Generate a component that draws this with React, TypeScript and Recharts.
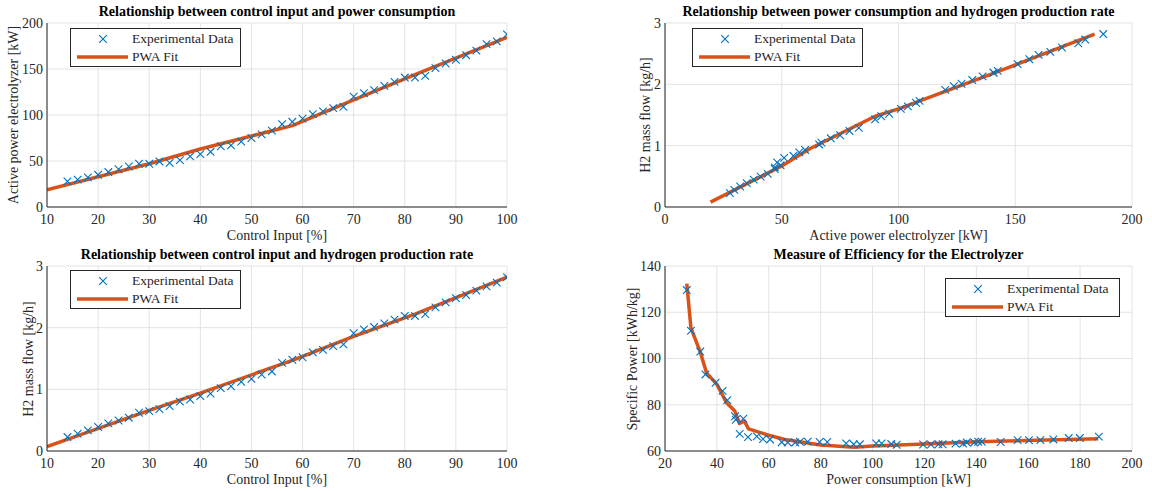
import React from "react";
import { CartesianGrid, ComposedChart, Line, Scatter, XAxis, YAxis } from "recharts";

const BLUE = "#0072BD";
const ORANGE = "#D95319";
const INK = "#262626";
const FONT = "'Liberation Serif', 'Times New Roman', serif";

// measured points: control input [%], power [kW], H2 flow [kg/h]
const controlInput = [
  14, 16, 18, 20, 22, 24, 26, 28, 30, 32, 34, 36, 38, 40, 42, 44, 46, 48, 50, 52, 54, 56,
  58, 60, 62, 64, 66, 68, 70, 72, 74, 76, 78, 80, 82, 84, 86, 88, 90, 92, 94, 96, 98, 100,
];
const powerKw = [
  27.8, 29.7, 32.2, 35, 38, 41, 44, 47, 47, 49.5, 48, 51, 55, 57.5, 60, 66, 67, 71, 75, 79,
  83, 90, 92.6, 96, 101, 104, 107.5, 109, 120, 123.7, 127, 131.6, 136, 140.7, 140.7, 142.5,
  151, 156, 160, 165, 170, 177, 180, 187.7,
];
const h2Flow = [
  0.226, 0.28, 0.334, 0.39, 0.447, 0.495, 0.54, 0.62, 0.646, 0.68, 0.727, 0.8, 0.835, 0.89,
  0.93, 1.02, 1.05, 1.12, 1.17, 1.24, 1.29, 1.43, 1.48, 1.52, 1.6, 1.64, 1.7, 1.73, 1.91,
  1.97, 2.01, 2.07, 2.13, 2.19, 2.19, 2.22, 2.33, 2.41, 2.48, 2.53, 2.6, 2.67, 2.73, 2.82,
];

// efficiency scatter (power [kW] vs specific power [kWh/kg])
const effPower = [
  28.4, 30, 33.6, 35.6, 39.5, 42.2, 44, 47, 47.3, 48.8, 50.2, 52, 55.4, 57.8, 60.5, 65, 67.3,
  70.2, 72, 75, 79.6, 82.5, 89.8, 92.7, 95.1, 101.4, 103.5, 107.2, 109.3, 119.5, 122.5, 125.4,
  127, 132, 134.9, 136.3, 139.2, 140.7, 142.1, 149.4, 155.9, 160.3, 164.7, 169.7, 175.6, 179.9,
  187.2,
];
const effSpecific = [
  129.6, 112, 103, 93.1, 89.5, 86, 82, 75, 73.5, 67.4, 74, 66, 66.3, 65.2, 65, 63.8, 63.7,
  63.7, 64, 64, 63.9, 63.9, 63.3, 62.9, 62.9, 63.3, 63.3, 63, 62.7, 62.8, 62.8, 62.9, 62.9,
  63.2, 63.2, 63.7, 63.7, 64, 64, 63.9, 64.7, 64.7, 64.7, 65, 65.6, 65.6, 66.2,
];

// PWA fit vertices
const fitCtrlX = [10, 30, 40, 58, 70, 82, 100];
const fitCtrlPower = [18.8, 47, 63, 88.5, 116.5, 144, 184.4];
const fitCtrlH2 = [0.07, 0.66, 0.94, 1.47, 1.86, 2.22, 2.82];
const fitPowX = [19.5, 50, 62, 90, 100, 140, 184];
const fitPowH2 = [0.08, 0.67, 0.95, 1.48, 1.6, 2.17, 2.82];
const fitEffX = [28.4, 30, 33.7, 36, 40, 43.7, 46.9, 48.7, 50.6, 52.2, 60, 66.2, 80, 93, 100, 120, 140, 187];
const fitEffY = [132.4, 113.2, 102.4, 93.8, 88.8, 80.9, 77.3, 71.9, 72.9, 69.6, 66.8, 65, 62.6, 61.6, 62.2, 63, 64, 65.3];

type Pt = { x: number; y: number };
const zip = (xs: number[], ys: number[]): Pt[] => xs.map((x, i) => ({ x, y: ys[i] }));

const XMark = (p: any) => {
  const r = 3.8;
  const { cx, cy } = p;
  return (
    <path
      d={`M${cx - r},${cy - r}L${cx + r},${cy + r}M${cx - r},${cy + r}L${cx + r},${cy - r}`}
      stroke={BLUE}
      strokeWidth={1.1}
      fill="none"
    />
  );
};

function LegendBox({ left, top, width }: { left: number; top: number; width: number }) {
  return (
    <div
      style={{
        position: "absolute",
        left,
        top,
        width,
        height: 39,
        border: `1px solid ${INK}`,
        background: "white",
        fontFamily: FONT,
        fontSize: 13.5,
        color: INK,
        boxSizing: "border-box",
      }}
    >
      <svg width={60} height={38} style={{ position: "absolute", left: 0, top: 0 }}>
        <XMark cx={32} cy={10} />
        <line x1={6} x2={57} y1={28} y2={28} stroke={ORANGE} strokeWidth={3.5} />
      </svg>
      <div style={{ position: "absolute", left: 61, top: 2, lineHeight: "16px" }}>Experimental Data</div>
      <div style={{ position: "absolute", left: 61, top: 20, lineHeight: "16px" }}>PWA Fit</div>
    </div>
  );
}

function Panel(props: {
  left: number;
  top: number;
  width: number;
  height: number;
  mTop: number;
  mRight: number;
  xDomain: [number, number];
  xTicks: number[];
  yDomain: [number, number];
  yTicks: number[];
  points: Pt[];
  fit: Pt[];
  title: string;
  xLabel: string;
  yLabel: string;
  yLabelX: number;
  legend: { left: number; top: number; width: number };
}) {
  const plotLeft = 47;
  const plotTop = props.mTop;
  const plotBottom = props.height - 38;
  const plotRight = props.width - props.mRight;
  const cx = (plotLeft + plotRight) / 2;
  const tick = { fill: INK, fontSize: 14, fontFamily: FONT };
  return (
    <div
      style={{
        position: "absolute",
        left: props.left,
        top: props.top,
        width: props.width,
        height: props.height,
        fontFamily: FONT,
      }}
    >
      <ComposedChart
        width={props.width}
        height={props.height}
        margin={{ top: props.mTop, right: props.mRight, left: 0, bottom: 0 }}
        style={{ fontFamily: FONT }}
      >
        <CartesianGrid stroke="#e3e3e3" strokeWidth={1} />
        <XAxis
          dataKey="x"
          type="number"
          domain={props.xDomain}
          ticks={props.xTicks}
          allowDataOverflow
          height={38}
          tickLine={false}
          tickSize={5}
          tickMargin={2}
          axisLine={{ stroke: INK }}
          tick={tick}
          interval={0}
        />
        <YAxis
          dataKey="y"
          type="number"
          domain={props.yDomain}
          ticks={props.yTicks}
          allowDataOverflow
          width={47}
          tickLine={false}
          tickSize={2}
          tickMargin={2}
          axisLine={{ stroke: INK }}
          tick={tick}
          interval={0}
        />
        <Scatter data={props.points} dataKey="y" shape={XMark} isAnimationActive={false} />
        <Line
          data={props.fit}
          dataKey="y"
          type="linear"
          stroke={ORANGE}
          strokeWidth={3.5}
          dot={false}
          activeDot={false}
          strokeLinejoin="round"
          isAnimationActive={false}
        />
      </ComposedChart>
      <div
        style={{
          position: "absolute",
          left: cx,
          top: plotTop - 11,
          transform: "translate(-50%, -50%)",
          whiteSpace: "nowrap",
          fontWeight: "bold",
          fontSize: 14,
          color: "black",
        }}
      >
        {props.title}
      </div>
      <div
        style={{
          position: "absolute",
          left: cx,
          top: plotBottom + 29,
          transform: "translate(-50%, -50%)",
          whiteSpace: "nowrap",
          fontSize: 14,
          color: INK,
        }}
      >
        {props.xLabel}
      </div>
      <div
        style={{
          position: "absolute",
          left: props.yLabelX,
          top: (plotTop + plotBottom) / 2,
          transform: "translate(-50%, -50%) rotate(-90deg)",
          whiteSpace: "nowrap",
          fontSize: 14,
          color: INK,
        }}
      >
        {props.yLabel}
      </div>
      <LegendBox {...props.legend} />
    </div>
  );
}

export default function App() {
  const ctrlPower = zip(controlInput, powerKw);
  const ctrlH2 = zip(controlInput, h2Flow);
  const powH2 = zip(powerKw, h2Flow);
  const eff = zip(effPower, effSpecific);
  return (
    <div style={{ position: "absolute", left: 0, top: 0, width: 1152, height: 491, background: "white" }}>
      <Panel
        left={0}
        top={0}
        width={530}
        height={245}
        mTop={23}
        mRight={23}
        xDomain={[10, 100]}
        xTicks={[10, 20, 30, 40, 50, 60, 70, 80, 90, 100]}
        yDomain={[0, 200]}
        yTicks={[0, 50, 100, 150, 200]}
        points={ctrlPower}
        fit={zip(fitCtrlX, fitCtrlPower)}
        title="Relationship between control input and power consumption"
        xLabel="Control Input [%]"
        yLabel="Active power electrolyzer [kW]"
        yLabelX={14}
        legend={{ left: 70, top: 28, width: 171 }}
      />
      <Panel
        left={618}
        top={0}
        width={534}
        height={245}
        mTop={23}
        mRight={20}
        xDomain={[0, 200]}
        xTicks={[0, 50, 100, 150, 200]}
        yDomain={[0, 3]}
        yTicks={[0, 1, 2, 3]}
        points={powH2}
        fit={zip(fitPowX, fitPowH2)}
        title="Relationship between power consumption and hydrogen production rate"
        xLabel="Active power electrolyzer [kW]"
        yLabel="H2 mass flow [kg/h]"
        yLabelX={28}
        legend={{ left: 74, top: 28, width: 171 }}
      />
      <Panel
        left={0}
        top={245}
        width={530}
        height={244}
        mTop={21}
        mRight={23}
        xDomain={[10, 100]}
        xTicks={[10, 20, 30, 40, 50, 60, 70, 80, 90, 100]}
        yDomain={[0, 3]}
        yTicks={[0, 1, 2, 3]}
        points={ctrlH2}
        fit={zip(fitCtrlX, fitCtrlH2)}
        title="Relationship between control input and hydrogen production rate"
        xLabel="Control Input [%]"
        yLabel="H2 mass flow [kg/h]"
        yLabelX={29}
        legend={{ left: 70, top: 25, width: 171 }}
      />
      <Panel
        left={618}
        top={245}
        width={534}
        height={244}
        mTop={21}
        mRight={20}
        xDomain={[20, 200]}
        xTicks={[20, 40, 60, 80, 100, 120, 140, 160, 180, 200]}
        yDomain={[60, 140]}
        yTicks={[60, 80, 100, 120, 140]}
        points={eff}
        fit={zip(fitEffX, fitEffY)}
        title="Measure of Efficiency for the Electrolyzer"
        xLabel="Power consumption [kW]"
        yLabel="Specific Power [kWh/kg]"
        yLabelX={15}
        legend={{ left: 327, top: 33, width: 175 }}
      />
    </div>
  );
}
